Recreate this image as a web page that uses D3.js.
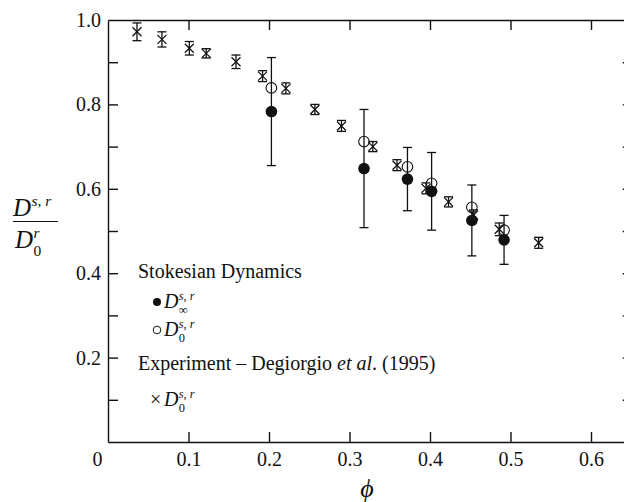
<!DOCTYPE html>
<html>
<head>
<meta charset="utf-8">
<script src="https://cdn.jsdelivr.net/npm/d3@7"></script>
<style>
  html, body { margin: 0; padding: 0; background: #fff; }
  svg { display: block; }
  text { font-family: "Liberation Serif", "Times New Roman", "DejaVu Serif", serif; fill: #111; }
</style>
</head>
<body>
<svg id="chart" width="624" height="502"></svg>
<script>
// Experiment (Degiorgio et al. 1995): volume fraction, D0^{s,r}/D0^r, error half-width
const phiExp = [0.036, 0.067, 0.101, 0.122, 0.159, 0.192, 0.221, 0.257, 0.290, 0.329, 0.359, 0.395, 0.423, 0.454, 0.486, 0.535];
const dExp   = [0.972, 0.954, 0.933, 0.921, 0.901, 0.867, 0.838, 0.788, 0.749, 0.700, 0.656, 0.601, 0.569, 0.538, 0.504, 0.472];
const errExp = [0.021, 0.018, 0.016, 0.011, 0.016, 0.013, 0.013, 0.012, 0.013, 0.012, 0.013, 0.013, 0.012, 0.012, 0.015, 0.013];

// Stokesian Dynamics: volume fraction, D_inf^{s,r} (with error), D_0^{s,r}
const phiSD  = [0.203, 0.318, 0.372, 0.402, 0.452, 0.492];
const dInf   = [0.783, 0.648, 0.623, 0.594, 0.525, 0.479];
const errInf = [0.128, 0.140, 0.075, 0.092, 0.084, 0.058];
const dZero  = [0.839, 0.712, 0.652, 0.613, 0.556, 0.502];

// Axis ticks and labels
const xTicks = [0, 0.1, 0.2, 0.3, 0.4, 0.5, 0.6];
const yTicks = [0.1, 0.2, 0.3, 0.4, 0.5, 0.6, 0.7, 0.8, 0.9, 1.0];
const yLabelled = [0.2, 0.4, 0.6, 0.8, 1.0];

const svg = d3.select("#chart");
const x = d3.scaleLinear().domain([0, 0.65]).range([108, 631.25]);
const y = d3.scaleLinear().domain([0, 1]).range([442, 20]);

const axisStroke = 1.4;
function styleAxis(g) {
  g.selectAll("path.domain").attr("stroke", "#111").attr("stroke-width", axisStroke);
  g.selectAll(".tick line").attr("stroke", "#111").attr("stroke-width", axisStroke);
  g.selectAll("text").attr("font-size", 20).attr("fill", "#111")
    .attr("font-family", '"Liberation Serif", "Times New Roman", serif');
}

// bottom axis
const gB = svg.append("g").attr("transform", `translate(0,${y(0)})`)
  .call(d3.axisBottom(x).tickValues(xTicks).tickSizeInner(-10).tickSizeOuter(0).tickPadding(10)
    .tickFormat(d => d === 0 ? "0" : d3.format(".1f")(d)));
styleAxis(gB);
gB.selectAll(".tick").filter(d => d === 0).select("text").attr("dx", -11);
gB.selectAll(".tick").filter(d => d === 0).select("line").remove();

// top axis
const gT = svg.append("g").attr("transform", `translate(0,${y(1)})`)
  .call(d3.axisTop(x).tickValues(xTicks.filter(d => d > 0)).tickSizeInner(-10).tickSizeOuter(0).tickFormat(""));
styleAxis(gT);

// left axis
const gL = svg.append("g").attr("transform", `translate(${x(0)},0)`)
  .call(d3.axisLeft(y).tickValues(yTicks).tickSizeInner(-10).tickSizeOuter(0).tickPadding(7)
    .tickFormat(d => yLabelled.some(v => Math.abs(v - d) < 1e-9) ? d3.format(".1f")(d) : ""));
styleAxis(gL);
gL.selectAll(".tick").filter(d => d === 1).select("line").remove();

// right axis
const gR = svg.append("g").attr("transform", `translate(${x(0.65)},0)`)
  .call(d3.axisRight(y).tickValues(yTicks.filter(d => d < 1)).tickSizeInner(-8.5).tickSizeOuter(0).tickFormat(""));
styleAxis(gR);

// experimental points: error bars and crosses
const expData = phiExp.map((p, i) => ({ p, v: dExp[i], e: errExp[i] }));
const gExp = svg.append("g").attr("stroke", "#111").attr("stroke-width", 1.3).attr("fill", "none");
const cap = 4.5, arm = 4.5;
expData.forEach(d => {
  const cx = x(d.p), top = y(d.v + d.e), bot = y(d.v - d.e), cy = y(d.v);
  gExp.append("line").attr("x1", cx).attr("x2", cx).attr("y1", top).attr("y2", bot);
  gExp.append("line").attr("x1", cx - cap).attr("x2", cx + cap).attr("y1", top).attr("y2", top);
  gExp.append("line").attr("x1", cx - cap).attr("x2", cx + cap).attr("y1", bot).attr("y2", bot);
  gExp.append("line").attr("x1", cx - arm).attr("x2", cx + arm).attr("y1", cy - arm).attr("y2", cy + arm);
  gExp.append("line").attr("x1", cx - arm).attr("x2", cx + arm).attr("y1", cy + arm).attr("y2", cy - arm);
});

// Stokesian Dynamics: error bars, open and filled circles
const sdData = phiSD.map((p, i) => ({ p, inf: dInf[i], e: errInf[i], z: dZero[i] }));
const gSD = svg.append("g").attr("stroke", "#111").attr("stroke-width", 1.3);
const sdCap = 4.5;
sdData.forEach(d => {
  const cx = x(d.p), top = y(d.inf + d.e), bot = y(d.inf - d.e);
  gSD.append("line").attr("x1", cx).attr("x2", cx).attr("y1", top).attr("y2", bot);
  gSD.append("line").attr("x1", cx - sdCap).attr("x2", cx + sdCap).attr("y1", top).attr("y2", top);
  gSD.append("line").attr("x1", cx - sdCap).attr("x2", cx + sdCap).attr("y1", bot).attr("y2", bot);
});
gSD.selectAll("circle.open").data(sdData).join("circle").attr("class", "open")
  .attr("cx", d => x(d.p)).attr("cy", d => y(d.z)).attr("r", 5.3)
  .attr("fill", "none").attr("stroke-width", 1.1);
gSD.selectAll("circle.filled").data(sdData).join("circle").attr("class", "filled")
  .attr("cx", d => x(d.p)).attr("cy", d => y(d.inf)).attr("r", 5.8)
  .attr("fill", "#111").attr("stroke", "none");

// symbol D with superscript / subscript
function dSymbol(g, x0, base, fs, sup, sub, subItalic) {
  g.append("text").attr("x", x0).attr("y", base).attr("font-size", fs)
    .attr("font-style", "italic").text("D");
  const sx = x0 + fs * 0.74;
  const sfs = fs * 0.62;
  if (sup) g.append("text").attr("x", sx).attr("y", base - fs * 0.42).attr("font-size", sfs)
    .attr("font-style", "italic").text(sup);
  if (sub) g.append("text").attr("x", sx).attr("y", base + fs * 0.3).attr("font-size", sfs)
    .attr("font-style", subItalic ? "italic" : "normal").text(sub);
}

// y-axis title: D^{s,r} / D_0^r
const gY = svg.append("g");
dSymbol(gY, 13, 216, 25, "s, r", null);
gY.append("line").attr("x1", 13).attr("x2", 58).attr("y1", 221.5).attr("y2", 221.5)
  .attr("stroke", "#111").attr("stroke-width", 1.2);
dSymbol(gY, 15, 248, 25, "r", "0");

// x-axis title
svg.append("text").attr("x", 367).attr("y", 497).attr("text-anchor", "middle")
  .attr("font-size", 26).attr("font-style", "italic").text("ϕ");

// legend
const gLeg = svg.append("g");
gLeg.append("text").attr("x", 138).attr("y", 278).attr("font-size", 20).text("Stokesian Dynamics");
gLeg.append("circle").attr("cx", 157).attr("cy", 302).attr("r", 4).attr("fill", "#111");
dSymbol(gLeg, 164, 308, 20, "s, r", "∞");
gLeg.append("circle").attr("cx", 157).attr("cy", 330).attr("r", 3.8).attr("fill", "none")
  .attr("stroke", "#111").attr("stroke-width", 1);
dSymbol(gLeg, 164, 336, 20, "s, r", "0");
const expT = gLeg.append("text").attr("x", 138).attr("y", 370).attr("font-size", 20);
expT.append("tspan").text("Experiment – Degiorgio ");
expT.append("tspan").attr("font-style", "italic").text("et al");
expT.append("tspan").text(". (1995)");
gLeg.append("text").attr("x", 150).attr("y", 406).attr("font-size", 20).text("×");
dSymbol(gLeg, 164, 406, 20, "s, r", "0");
</script>
</body>
</html>
